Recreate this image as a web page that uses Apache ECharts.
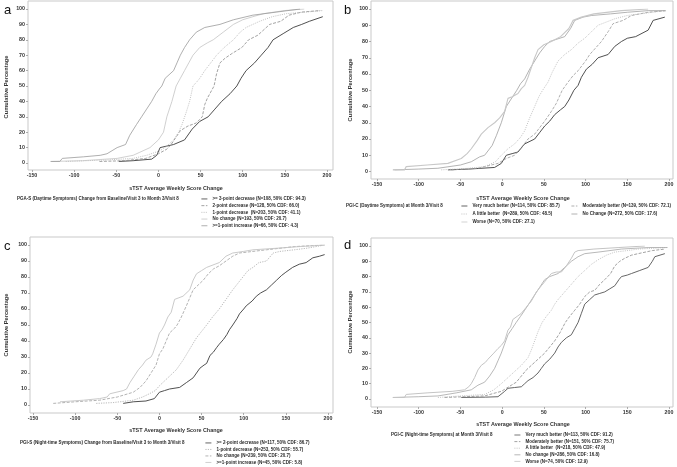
<!DOCTYPE html>
<html><head><meta charset="utf-8">
<script src="https://cdn.jsdelivr.net/npm/echarts@6/dist/echarts.min.js"></script>
<style>html,body{margin:0;padding:0;background:#fff}#c{width:677px;height:467px}</style>
</head><body><div id="c"></div>
<script>
// ---- tick labels ----
const xTicks = [-150, -100, -50, 0, 50, 100, 150, 200];
const yTicks = [0, 10, 20, 30, 40, 50, 60, 70, 80, 90, 100];
const xTitle = 'sTST Average Weekly Score Change';
const yTitle = 'Cumulative Percentage';

// ---- panel a ----
const aTitle = 'PGA-S (Daytime Symptoms) Change from Baseline/Visit 3 to Month 3/Visit 8';
const aNames = ['>= 3-point decrease (N=108, 50% CDF: 94.3)','2-point decrease (N=128, 50% CDF: 66.0)','1-point decrease  (N=203, 50% CDF: 41.1)','No change (N=193, 50% CDF: 20.7)','>=1-point increase (N=66, 50% CDF: 4.3)'];
const a1 = [[-47,1],[-30,1.5],[-8,2.5],[-2,5],[2,10],[10,11],[18,12],[31,15],[40,22],[49,27],[59,30],[67,35],[75,40],[85,45],[93,50],[98,55],[104,60],[114,65],[122,70],[130,75],[136,80],[148,84],[160,88],[170,90],[179,92],[195,95]];
const a2 = [[-70,1],[-40,1.5],[-15,3],[0,6],[10,9],[15,12],[20,16],[26,21],[35,24],[45,26],[52,30],[55,38],[58,42],[62,46],[66,50],[69,58],[73,65],[79,68],[87,71],[99,75],[107,80],[118,83],[132,90],[145,92],[155,96],[170,98],[192,99]];
const a3 = [[-110,1],[-60,2],[-30,3],[-14,5],[2,8],[10,11],[18,15],[24,20],[28,25],[33,33],[37,40],[41,50],[46,53],[49,55],[55,60],[62,65],[69,70],[78,75],[89,80],[97,85],[104,88],[112,90],[120,92],[135,95],[152,97],[175,98],[195,99]];
const a4 = [[-127,1],[-90,1.5],[-49,3],[-30,5],[-22,7],[-10,10],[0,15],[6,20],[10,30],[16,40],[21,50],[26,55],[31,60],[36,65],[41,70],[49,75],[58,78],[65,80],[77,85],[89,90],[100,93],[112,95],[125,97],[150,99],[173,100]];
const a5 = [[-128,1],[-117,1],[-114,3],[-89,4],[-69,5],[-61,6],[-49,10],[-39,12],[-34,18],[-26,25],[-20,30],[-14,35],[-8,40],[-3,45],[1,48],[4,50],[8,55],[18,60],[22,65],[26,70],[31,75],[37,80],[45,85],[55,88],[73,90],[89,93],[112,96],[140,98],[168,100]];

// ---- panel b ----
const bTitle = 'PGI-C (Daytime Symptoms) at Month 3/Visit 8';
const bNames = ['Very much better (N=114, 50% CDF: 85.7)','Moderately better (N=139, 50% CDF: 72.1)','A little better  (N=289, 50% CDF: 48.5)','No Change (N=272, 50% CDF: 17.6)','Worse (N=70, 50% CDF: 27.1)'];
const b1 = [[-65,1],[-40,1.5],[-9,2.5],[-1,5],[5,10],[12,11],[19,12],[27,17],[39,20],[45,24],[51,28],[57,31],[63,35],[70,38],[75,40],[80,44],[86,50],[91,53],[95,58],[101,63],[108,66],[115,70],[127,72],[135,77],[143,80],[150,82],[160,83],[175,87],[181,93],[195,95]];
const b2 = [[-61,1],[-29,2],[-5,5],[5,8],[15,10],[25,16],[31,20],[39,23],[45,27],[51,31],[59,37],[65,42],[72,50],[79,55],[85,59],[91,62],[100,68],[105,72],[112,76],[119,80],[127,86],[133,91],[145,93],[155,96],[175,98],[198,99]];
const b3 = [[-73,1],[-40,2],[-21,3],[-8,6],[-1,10],[7,14],[15,17],[22,21],[27,25],[33,33],[39,40],[44,46],[48.5,50],[55,55],[60,61],[67,68],[75,72],[83,75],[91,79],[99,82],[107,86],[115,90],[125,92],[135,94],[150,96],[165,97],[195,99]];
const b4 = [[-131,1],[-100,1.5],[-77,2],[-50,4],[-37,6],[-27,9],[-21,10],[-12,16],[-7,22],[-1,30],[5,40],[10,44],[17.6,50],[22,54],[27,57],[33,63],[39,68],[45,73],[51,77],[57,80],[63,81],[75,83],[82,88],[87,93],[97,95],[107,96],[130,97],[150,98],[175,99],[195,99]];
const b5 = [[-129,1],[-117,1],[-115,3],[-90,4],[-65,5],[-49,8],[-42,11],[-37,14],[-30,19],[-25,23],[-17,27],[-9,30],[-3,33],[3,37],[7,45],[12,46],[19,48],[23,51],[27,53],[31,58],[35,64],[39,70],[43,75],[50,78],[59,80],[70,83],[80,88],[85,93],[95,95],[110,97],[143,99],[175,100]];

// ---- panel c ----
const cTitle = 'PGI-S (Night-time Symptoms) Change from Baseline/Visit 3 to Month 3/Visit 8';
const cNames = ['>= 2-point decrease (N=117, 50% CDF: 86.7)','1-point decrease (N=253, 50% CDF: 55.7)','No change (N=239, 50% CDF: 20.7)','>=1-point increase (N=45, 50% CDF: 5.8)'];
const c1 = [[-43,1],[-31,2],[-16,2.5],[-6,4],[0,8],[6,9],[12,10],[24,11],[32,14],[40,17],[44,20],[48,23],[53,25],[56,26],[60,31],[64,33],[68,36],[71,38],[76,41],[80,44],[83,47],[87,50],[92,54],[95,57],[100,60],[103,62],[110,65],[115,68],[120,70],[127,72],[133,75],[139,78],[145,81],[150,83],[158,86],[166,88],[174,89],[182,92],[190,93],[196,94]];
const c2 = [[-75,1],[-55,1.5],[-31,3],[-20,5],[-12,7],[-5,9],[0,12],[6,15],[12,18],[20,22],[28,28],[36,35],[44,42],[50,46],[56,50],[63,55],[71,60],[79,66],[87,72],[93,76],[99,80],[105,84],[111,86],[118,89],[127,90],[135,95],[143,96],[160,97],[175,98],[196,100]];
const c3 = [[-126,1],[-100,2],[-71,3],[-50,5],[-31,8],[-23,11],[-16,15],[-10,20],[-4,25],[0,32],[4,35],[8,40],[12,45],[18,48],[21,50],[26,55],[32,62],[36,67],[40,72],[46,75],[52,78],[58,82],[64,85],[71,87],[79,90],[87,93],[95,95],[111,96],[127,97],[160,99],[196,100]];
const c4 = [[-118,2],[-90,3],[-71,4],[-62,5],[-59,7],[-43,9],[-39,10],[-35,14],[-30,18],[-25,22],[-20,25],[-16,28],[-10,30],[-8,32],[-4,38],[0,45],[3,47],[6,50],[10,55],[14,58],[18,66],[28,68],[36,72],[40,78],[44,82],[50,84],[56,86],[66,88],[71,89],[79,93],[87,95],[100,96],[111,97],[140,98],[166,99],[196,100]];

// ---- panel d ----
const dTitle = 'PGI-C (Night-time Symptoms) at Month 3/Visit 8';
const dNames = ['Very much better (N=113, 50% CDF: 91.2)','Moderately better (N=151, 50% CDF: 75.7)','A little better  (N=218, 50% CDF: 47.9)','No change (N=286, 50% CDF: 16.8)','Worse (N=74, 50% CDF: 12.9)'];
const d1 = [[-49,1],[-20,1.2],[-5,1.5],[3,5],[7,7],[15,7.5],[23,8],[27,10],[31,12],[37,14],[43,17],[47,20],[51,23],[57,26],[63,30],[67,34],[71,37],[77,40],[83,42],[87,46],[91,50],[95,56],[99,62],[105,65],[111,68],[117,69],[123,70],[129,72],[135,74],[140,78],[143,80],[150,81],[155,82],[165,84],[175,86],[180,90],[183,93],[195,95]];
const d2 = [[-69,1],[-45,1.5],[-21,2],[-8,4],[-1,5],[5,7],[11,9],[17,11],[23,15],[29,19],[35,22],[43,26],[51,30],[57,34],[63,38],[69,43],[75.7,50],[81,54],[87,58],[93,62],[99,67],[105,70],[111,71],[117,75],[123,78],[130,82],[135,87],[141,90],[147,92],[155,94],[163,95],[180,97],[195,98]];
const d3 = [[-77,1],[-50,2],[-21,3],[-10,6],[-1,10],[7,14],[15,18],[23,22],[31,27],[35,32],[39,38],[43,44],[47.9,50],[53,54],[59,58],[63,62],[67,65],[75,70],[83,75],[91,80],[99,84],[107,88],[115,91],[125,94],[135,96],[150,97],[163,98],[198,99]];
const d4 = [[-131,1],[-100,1.5],[-77,2],[-55,4],[-37,6],[-29,9],[-21,11],[-15,15],[-9,20],[-5,25],[-1,30],[3,36],[7,42],[12,46],[16.8,50],[22,54],[27,58],[33,63],[39,68],[45,73],[51,78],[57,80],[67,82],[75,86],[83,90],[91,93],[99,95],[115,96],[143,98],[175,99],[198,99]];
const d5 = [[-131,1],[-117,1],[-115,3],[-90,4],[-60,5],[-45,6],[-40,8],[-37,10],[-33,14],[-29,19],[-25,22],[-20,24],[-17,26],[-10,30],[-5,33],[-1,35],[3,38],[7,45],[10,47],[12.9,52],[18,54],[23,56],[29,60],[35,64],[41,70],[47,74],[53,78],[59,82],[65,83],[71,83],[77,87],[83,92],[87,96],[91,97],[110,98],[140,99],[171,100]];

// ---- layout (page pixels) ----
const FONT = 'Liberation Sans';
const panels = [
  {data:{left:32,top:9,width:295,height:154}, box:{left:28,top:1,width:305,height:169}, xo:7, yo:4,
   names:aNames, vals:[a1,a2,a3,a4,a5],
   styles:[['#3c3c3c','solid',0.9],['#8a8a8a',[3,1.5],0.8],['#b0b0b0',[1,1.2],0.8],['#c4c4c4','solid',0.8],['#9a9a9a','solid',0.8]]},
  {data:{left:377,top:9,width:292,height:162.5}, box:{left:371,top:1,width:302,height:178}, xo:7.5, yo:6,
   names:bNames, vals:[b1,b2,b3,b4,b5],
   styles:[['#3c3c3c','solid',0.9],['#9a9a9a',[3,1.5],0.8],['#b4b4b4',[1,1.2],0.8],['#a0a0a0','solid',0.8],['#c8c8c8','solid',1.1]]},
  {data:{left:33,top:245,width:295,height:160}, box:{left:30,top:237,width:303,height:176}, xo:8, yo:3,
   names:cNames, vals:[c1,c2,c3,c4],
   styles:[['#3c3c3c','solid',0.9],['#a8a8a8',[1.2,1.2],0.8],['#a0a0a0',[3,1.5],0.8],['#c4c4c4','solid',0.9]]},
  {data:{left:377,top:246,width:292,height:153}, box:{left:371,top:238,width:302,height:169}, xo:8, yo:6,
   names:dNames, vals:[d1,d2,d3,d4,d5],
   styles:[['#555555','solid',0.9],['#8a8a8a',[3,1.5],0.8],['#b4b4b4',[1,1.2],0.8],['#a6a6a6','solid',0.8],['#c4c4c4','solid',1.0]]}
];

const labelStyle = {fontSize:5.3, fontWeight:'bold', color:'#333', margin:3, fontFamily:FONT};
const grid=[], xAxis=[], yAxis=[], series=[];
panels.forEach((p,k)=>{
  const gi = grid.length;
  grid.push(Object.assign({show:false}, p.data));
  grid.push(Object.assign({show:true, borderColor:'#c9c9c9', borderWidth:1, backgroundColor:'transparent'}, p.box));
  xAxis.push({gridIndex:gi, type:'value', min:xTicks[0], max:xTicks[xTicks.length-1], interval:xTicks[1]-xTicks[0], offset:p.xo,
    axisLine:{show:false, onZero:false}, splitLine:{show:false},
    axisTick:{show:true, length:2, lineStyle:{color:'#999', width:0.8}},
    axisLabel:labelStyle});
  yAxis.push({gridIndex:gi, type:'value', min:yTicks[0], max:yTicks[yTicks.length-1], interval:yTicks[1]-yTicks[0], offset:p.yo,
    axisLine:{show:false, onZero:false}, splitLine:{show:false},
    axisTick:{show:true, length:2, lineStyle:{color:'#999', width:0.8}},
    axisLabel:labelStyle});
  xAxis.push({gridIndex:gi+1, type:'value', show:false, min:0, max:1});
  yAxis.push({gridIndex:gi+1, type:'value', show:false, min:0, max:1});
  p.vals.forEach((v,i)=>{
    const s = p.styles[i];
    series.push({type:'line', name:p.names[i], xAxisIndex:2*k, yAxisIndex:2*k, data:v,
      symbol:'none', silent:true, color:s[0], lineStyle:{color:s[0], type:s[1], width:s[2]}});
  });
});

const LFS = 4.5;
function mkLegend(left, top, data, lh){
  return {orient:'vertical', left:left, top:top, height:60, data:data, itemWidth:6, itemHeight:1, itemGap:0,
    selectedMode:false, padding:0, lineStyle:{width:0.8}, itemStyle:{opacity:0},
    textStyle:{fontSize:LFS, fontWeight:'bold', color:'#2a2a2a', fontFamily:FONT, lineHeight:lh, padding:0}};
}
const legend = [
  mkLegend(201, 195.6, aNames, 6.7),
  mkLegend(461, 202, [bNames[0],bNames[2],bNames[4]], 8),
  mkLegend(571, 202, [bNames[1],bNames[3]], 8),
  mkLegend(205, 439.7, cNames, 6.5),
  mkLegend(514, 431.7, dNames, 6.6)
];

function txt(x,y,t,o){ return {type:'text', x:x, y:y, silent:true, style:Object.assign({text:t, fill:'#2a2a2a', fontSize:LFS, fontWeight:'bold', fontFamily:FONT, verticalAlign:'middle'}, o||{})}; }
function ytxt(x,y){ return {type:'text', x:x, y:y, rotation:Math.PI/2, silent:true, style:{text:yTitle, fill:'#333', fontSize:5.7, fontWeight:'bold', fontFamily:FONT, align:'center', verticalAlign:'middle'}}; }
const letter = {fontSize:13, fontWeight:'normal', fill:'#111', fontFamily:FONT};
const xt = {align:'center', fontSize:5.4, fontWeight:'bold', fill:'#333'};
const graphic = [
  txt(4,10,'a',letter), txt(344,10,'b',letter), txt(4,246,'c',letter), txt(344,245,'d',letter),
  ytxt(6,87), ytxt(350,90), ytxt(6,325), ytxt(350,322),
  txt(176,189,xTitle,xt), txt(523,199,xTitle,xt), txt(176,431,xTitle,xt), txt(523,425,xTitle,xt),
  txt(17,199,aTitle), txt(346,206,bTitle), txt(20,443,cTitle), txt(391,435,dTitle)
];

const chart = echarts.init(document.getElementById('c'), null, {renderer:'canvas'});
chart.setOption({animation:false, backgroundColor:'#fff', grid, xAxis, yAxis, series, legend, graphic});
</script></body></html>
